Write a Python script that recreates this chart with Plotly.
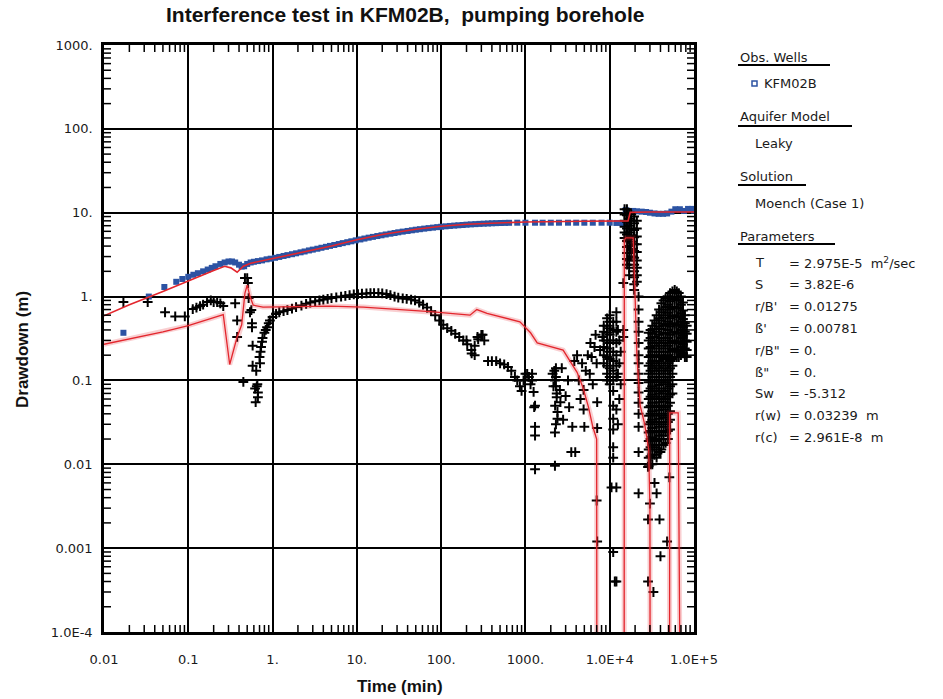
import plotly.graph_objects as go

# ---------------- data ----------------
# Observed drawdown, KFM02B (blue squares)
obs_time = [0.017, 0.034, 0.052, 0.072, 0.085, 0.1, 0.115, 0.13, 0.15, 0.17, 0.19, 0.21, 0.24, 0.27, 0.3,
            0.33, 0.36, 0.4, 0.43, 0.46, 0.5, 0.55, 0.6, 0.67, 0.75, 0.85, 0.95, 1.07, 1.2, 1.35, 1.5, 1.7,
            1.9, 2.15, 2.4, 2.7, 3.0, 3.4, 3.8, 4.3, 4.8, 5.4, 6.1, 6.8, 7.7, 8.6, 9.7, 11, 12.3, 13.8, 15.5,
            17.5, 19.6, 22, 25, 28, 31, 35, 40, 45, 50, 56, 63, 71, 80, 90, 100, 113, 127, 143, 160, 180,
            200, 225, 255, 285, 320, 360, 400, 450, 510, 570, 640, 800, 1000, 1300, 1600, 2000, 2500, 3200,
            4000, 5000, 6300, 8000, 10000, 12000, 14000, 15500, 16500, 15500, 17500, 19000, 21000, 24000,
            27000, 30000, 34000, 38000, 43000, 48000, 54000, 60000, 68000, 76000, 85000, 95000, 100000]
obs_drawdown = [0.37, 1.0, 1.3, 1.5, 1.62, 1.72, 1.82, 1.9, 2.0, 2.1, 2.2, 2.3, 2.45, 2.55, 2.62,
                2.62, 2.55, 2.4, 2.28, 2.3, 2.45, 2.55, 2.6, 2.65, 2.7, 2.78, 2.83, 2.9, 2.97, 3.05, 3.12, 3.2,
                3.28, 3.37, 3.45, 3.55, 3.63, 3.72, 3.82, 3.92, 4.02, 4.12, 4.23, 4.34, 4.45, 4.56, 4.68, 4.8,
                4.92, 5.04, 5.15, 5.27, 5.38, 5.5, 5.62, 5.73, 5.84, 5.95, 6.06, 6.17, 6.27, 6.36, 6.46, 6.55,
                6.64, 6.73, 6.8, 6.88, 6.95, 7.02, 7.08, 7.14, 7.2, 7.26, 7.31, 7.36, 7.4, 7.44, 7.48, 7.51,
                7.54, 7.56, 7.58, 7.6, 7.6, 7.6, 7.6, 7.6, 7.6, 7.6, 7.6, 7.6, 7.6, 7.6, 7.6, 7.55, 7.5, 7.3,
                7.3, 10.8, 10.3, 10.5, 10.4, 10.3, 10.2, 10.0, 9.8, 9.7, 9.7, 9.8, 10.3, 11.0, 11.0, 10.5,
                11.1, 11.1, 10.6]

# Derivative data (black crosses) - scattered points
deriv_time = [0.017, 0.033, 0.053, 0.07, 0.091, 0.113, 0.125, 0.138, 0.15, 0.167, 0.185, 0.2, 0.22, 0.24, 0.26,
              0.36, 0.38, 0.38, 0.45, 0.47, 0.5, 0.51, 0.52, 0.54, 0.56, 0.57, 0.57, 0.58, 0.58, 0.62, 0.64,
              0.67, 0.67, 0.65, 0.63, 0.66,
              0.70, 0.71, 0.72, 0.73, 0.75, 0.76, 0.8, 0.83, 0.86, 0.9,
              0.93, 1.0, 1.1, 1.2, 1.35, 1.5, 1.7, 1.9, 2.2, 2.5, 2.8, 3.2, 3.6, 4.0, 4.5, 5.0, 5.7, 6.5, 7.3,
              8.2, 9.2, 10.3, 11.5, 13, 14.5, 16, 18, 20, 22.5, 25, 28, 31, 35, 39, 44, 49, 55, 61, 68, 76,
              85, 95, 106, 118, 132, 147, 164, 183, 204, 228, 250, 275, 300, 325, 250, 270, 310, 200, 230,
              360, 400, 450, 500, 560, 620, 680, 750, 800, 860, 900, 950, 1000, 1050, 1100, 1150, 1200,
              1200, 1250, 1270, 1300, 1300, 1300, 1300,
              2240, 2350, 2400, 2240, 2240, 2560, 2100, 2150, 2300, 2800, 3300, 3600, 3500, 3900, 4900, 4900,
              4700, 5200, 5000, 6100, 5900, 7000, 7100, 7100, 7000, 7100, 7700, 8200,
              3800, 4100, 4300, 4500, 5500, 5800, 6300, 6600, 6800, 3000, 3200, 2700,
              2200, 2300, 2300, 2350, 2250, 2400, 2300, 2600,
              11500, 10500, 11000, 12500, 13000, 13500, 13000, 12500, 13500, 13000, 12000, 12500, 12000, 12000,
              14500, 14500, 14500,
              28500, 30000, 28500, 39000, 48000, 40000, 28500, 33000, 51000, 40000, 34000, 36000]
deriv_drawdown = [0.86, 0.86, 0.65, 0.58, 0.58, 0.71, 0.74, 0.77, 0.8, 0.86, 0.9, 0.86, 0.86, 0.83, 0.77,
                  0.83, 0.52, 0.33, 0.096, 1.66, 1.66, 1.45, 0.96, 0.65, 0.69, 0.48, 0.43, 0.26, 0.15, 0.08,
                  0.13, 0.063, 0.072, 0.085, 0.055, 0.09,
                  0.19, 0.16, 0.22, 0.25, 0.29, 0.32, 0.37, 0.4, 0.43, 0.48,
                  0.52, 0.57, 0.62, 0.65, 0.67, 0.69, 0.72, 0.75, 0.78, 0.82, 0.85, 0.88, 0.9, 0.92, 0.94, 0.96,
                  0.98, 1.0, 1.02, 1.04, 1.06, 1.07, 1.08, 1.09, 1.1, 1.1, 1.1, 1.09, 1.07, 1.04, 1.0, 0.97,
                  0.95, 0.94, 0.92, 0.9, 0.85, 0.8, 0.74, 0.67, 0.6, 0.52, 0.46, 0.42, 0.39, 0.36, 0.33, 0.3,
                  0.27, 0.23, 0.26, 0.31, 0.35, 0.3, 0.2, 0.33, 0.35, 0.3, 0.21,
                  0.17, 0.17, 0.17, 0.16, 0.155, 0.145, 0.13, 0.11, 0.1, 0.085, 0.075, 0.1, 0.12, 0.12, 0.11,
                  0.09, 0.12, 0.1, 0.073, 0.048, 0.05, 0.028, 0.022, 0.0087,
                  0.1, 0.063, 0.042, 0.024, 0.0096, 0.077, 0.12, 0.085, 0.14, 0.034, 0.048, 0.028, 0.014,
                  0.014, 0.077, 0.045, 0.16, 0.13, 0.028, 0.19, 0.28, 0.16, 0.055, 0.027, 0.0037, 0.0012,
                  0.23, 0.33,
                  0.17, 0.2, 0.1, 0.06, 0.2, 0.12, 0.09, 0.25, 0.35, 0.065, 0.1, 0.14,
                  0.13, 0.11, 0.085, 0.07, 0.05, 0.035, 0.03, 0.055,
                  0.0004, 0.0053, 0.0009, 0.4, 0.3, 0.22, 0.16, 0.12, 0.09, 0.06, 0.045, 0.03, 0.0053, 0.0004,
                  1.45, 0.4, 0.33,
                  0.0093, 0.0034, 0.0022, 0.0022, 0.0012, 0.0008, 0.0004, 0.0003, 0.007, 0.014, 0.006, 0.0045]

# Derivative data (black crosses) - dense columns at late time
deriv_col_time = [8500, 9300, 10000, 11000, 12000,
                  15000, 16000, 17000, 18000, 19500, 21000, 22000,
                  29000, 30500, 32000, 34000, 36000, 38500, 41000, 43500, 46000, 49000, 52000, 55500,
                  59000, 62500, 66000, 70000, 74000, 78000, 82000]
deriv_col_values = [
    [0.45, 0.38, 0.3, 0.25, 0.2, 0.16],
    [0.55, 0.45, 0.37, 0.3, 0.24, 0.19, 0.15, 0.12, 0.1],
    [0.6, 0.5, 0.42, 0.35, 0.28, 0.22, 0.18, 0.14, 0.11, 0.09],
    [0.5, 0.4, 0.3, 0.22, 0.17, 0.13, 0.1, 0.075, 0.05, 0.035, 0.026, 0.016, 0.012],
    [0.65, 0.5, 0.38, 0.28, 0.2, 0.15, 0.11],
    [11, 9.5, 8, 6.8, 5.8, 5],
    [11, 9.3, 7.8, 6.5, 5.5, 4.6, 3.9, 3.3, 2.8, 2.4],
    [10, 8.5, 7, 5.8, 4.8, 4, 3.3, 2.7, 2.2, 1.8],
    [9.5, 8, 6.5, 5.4, 4.5, 3.7, 3],
    [9, 7.5, 6.2, 5.1, 4.2, 3.5, 2.9, 2.4, 2, 1.7, 1.4, 1.2],
    [8, 6.5, 5.2, 4.2, 3.4, 2.7, 2.2, 1.8, 1.5],
    [1.0, 0.7, 0.5, 0.38, 0.28, 0.2, 0.16, 0.12, 0.093, 0.072, 0.054, 0.04, 0.028, 0.014, 0.0045],
    [0.37, 0.3, 0.24, 0.19, 0.15, 0.12, 0.095, 0.075, 0.06, 0.048, 0.038, 0.03, 0.024, 0.019, 0.015, 0.012, 0.0095],
    [0.4, 0.32, 0.25, 0.2, 0.16, 0.13, 0.1, 0.08, 0.064, 0.05, 0.04, 0.032, 0.025, 0.02, 0.016, 0.0125, 0.01],
    [0.45, 0.36, 0.28, 0.22, 0.17, 0.14, 0.11, 0.085, 0.068, 0.054, 0.043, 0.034, 0.027, 0.021, 0.017, 0.013, 0.01],
    [0.52, 0.41, 0.33, 0.26, 0.2, 0.16, 0.13, 0.1, 0.08, 0.064, 0.05, 0.04, 0.032, 0.025, 0.02, 0.016, 0.013],
    [0.6, 0.48, 0.38, 0.3, 0.24, 0.19, 0.15, 0.12, 0.095, 0.075, 0.06, 0.048, 0.038, 0.03, 0.024, 0.019, 0.015, 0.012],
    [0.7, 0.55, 0.44, 0.35, 0.28, 0.22, 0.17, 0.14, 0.11, 0.088, 0.07, 0.055, 0.044, 0.035, 0.028, 0.022, 0.017, 0.014],
    [0.83, 0.65, 0.52, 0.41, 0.32, 0.26, 0.2, 0.16, 0.13, 0.1, 0.08, 0.064, 0.05, 0.04, 0.032, 0.025, 0.02, 0.015],
    [0.9, 0.7, 0.56, 0.45, 0.36, 0.28, 0.22, 0.18, 0.14, 0.11, 0.09, 0.07, 0.056, 0.045, 0.036, 0.028, 0.022, 0.017],
    [0.95, 0.75, 0.6, 0.47, 0.37, 0.3, 0.24, 0.19, 0.15, 0.12, 0.095, 0.075, 0.06, 0.048, 0.038, 0.03, 0.024, 0.018],
    [1.0, 0.8, 0.64, 0.5, 0.4, 0.32, 0.26, 0.2, 0.16, 0.13, 0.1, 0.08, 0.064, 0.05, 0.04, 0.032, 0.025, 0.02],
    [1.1, 0.88, 0.7, 0.55, 0.44, 0.35, 0.28, 0.22, 0.17, 0.14, 0.11, 0.085, 0.068, 0.054, 0.043, 0.034, 0.026],
    [1.15, 0.92, 0.73, 0.58, 0.46, 0.37, 0.29, 0.23, 0.18, 0.15, 0.12, 0.09, 0.07],
    [1.2, 0.95, 0.75, 0.6, 0.48, 0.38, 0.3, 0.24, 0.19],
    [1.15, 0.92, 0.73, 0.58, 0.46, 0.37, 0.29, 0.23, 0.19],
    [1.1, 0.9, 0.72, 0.57, 0.45, 0.36, 0.28, 0.22, 0.19],
    [1.0, 0.8, 0.63, 0.5, 0.4, 0.32, 0.25, 0.2],
    [0.85, 0.68, 0.54, 0.43, 0.34, 0.27, 0.21],
    [0.6, 0.48, 0.38, 0.3, 0.24, 0.19],
    [0.45, 0.36, 0.29, 0.23, 0.19],
]

# Model curves (red lines)
model_time = [0.01, 0.02, 0.05, 0.1, 0.2, 0.27, 0.32, 0.38, 0.45, 0.55, 0.8, 1, 2, 5, 10, 20, 50, 100, 200,
              500, 1000, 5000, 15000, 16500, 17500, 30000, 100000]
model_drawdown = [0.59, 0.8, 1.15, 1.55, 2.05, 2.3, 2.2, 1.95, 2.3, 2.5, 2.7, 2.85, 3.3, 4.0, 4.75, 5.5, 6.35,
                  6.9, 7.3, 7.6, 7.75, 7.9, 8.0, 8.0, 10.1, 10.2, 10.2]

deriv_model_time = [0.01, 0.05, 0.1, 0.2, 0.26, 0.31, 0.38, 0.43, 0.47, 0.5, 0.54, 0.59, 0.77, 4.8, 11.9, 74,
                    220, 265, 350, 860, 1150, 1380, 2800, 4100, 4800, 5600, 6300, 7000, 7100,
                    14800, 14900, 15500, 19000, 20000, 21000, 23000, 26000, 29000, 30000, 30500,
                    51000, 51500, 65000, 73000]
deriv_model_drawdown = [0.27, 0.38, 0.45, 0.56, 0.61, 0.155, 0.33, 0.46, 1.1, 1.37, 1.0, 0.79, 0.75, 0.77,
                        0.75, 0.66, 0.6, 0.7, 0.63, 0.5, 0.37, 0.28, 0.23, 0.125, 0.083, 0.048, 0.028, 0.02,
                        1e-9, 1e-9, 4.7, 5.0, 5.0, 1.0, 0.2, 0.05, 0.03, 0.015, 0.003, 1e-9,
                        1e-9, 0.041, 0.041, 1e-9]

x_tickvals = [0.01, 0.1, 1, 10, 100, 1000, 10000, 100000]
x_ticktext = ["0.01", "0.1", "1.", "10.", "100.", "1000.", "1.0E+4", "1.0E+5"]
y_tickvals = [0.0001, 0.001, 0.01, 0.1, 1, 10, 100, 1000]
y_ticktext = ["1.0E-4", "0.001", "0.01", "0.1", "1.", "10.", "100.", "1000."]

param_labels = ["T", "S", "r/B'", "ß'", "r/B\"", "ß\"", "Sw", "r(w)", "r(c)"]
param_values = ["= 2.975E-5  m<sup>2</sup>/sec", "= 3.82E-6", "= 0.01275", "= 0.00781", "= 0.",
                "= 0.", "= -5.312", "= 0.03239  m", "= 2.961E-8  m"]

# ---------------- figure ----------------
L, R, T, B = 104, 694, 45, 632
W, H = 943, 699


def px(x):
    return (x - L) / (R - L)


def py(y):
    return (B - y) / (B - T)


dx, dy = [], []
for t, vals in zip(deriv_col_time, deriv_col_values):
    for v in vals:
        dx.append(t)
        dy.append(v)
dx = deriv_time + dx
dy = deriv_drawdown + dy

RED = "#e3262d"
fig = go.Figure()
fig.add_trace(go.Scatter(x=obs_time, y=obs_drawdown, mode="markers",
                         marker=dict(symbol="square", size=6, color="#2c53a3"),
                         showlegend=False))
fig.add_trace(go.Scatter(x=dx, y=dy, mode="markers",
                         marker=dict(symbol="cross-thin", size=7, line=dict(width=2, color="black")),
                         showlegend=False))
# soft halo of the model derivative curve (anti-aliased look of the original)
fig.add_trace(go.Scatter(x=deriv_model_time, y=deriv_model_drawdown, mode="lines",
                         line=dict(color="rgba(227,38,45,0.22)", width=5), showlegend=False))
fig.add_trace(go.Scatter(x=model_time, y=model_drawdown, mode="lines",
                         line=dict(color=RED, width=1.6), showlegend=False))
fig.add_trace(go.Scatter(x=deriv_model_time, y=deriv_model_drawdown, mode="lines",
                         line=dict(color=RED, width=1.3), showlegend=False))

axis_common = dict(type="log", showgrid=True, gridcolor="black", gridwidth=2,
                   showline=True, linecolor="black", linewidth=2.5, mirror=True,
                   ticks="", tickfont=dict(family="DejaVu Sans", size=13, color="#1a1a1a"),
                   zeroline=False)
fig.update_xaxes(range=[-2, 5], tickvals=x_tickvals, ticktext=x_ticktext, ticklabelstandoff=14,
                 **axis_common)
fig.update_yaxes(range=[-4, 3], tickvals=y_tickvals, ticktext=y_ticktext, ticklabelstandoff=6,
                 **axis_common)

ann = []
ann.append(dict(x=px(405), y=py(14), text="<b>Interference test in KFM02B,  pumping borehole</b>",
                font=dict(family="Liberation Sans", size=21, color="#111")))
ann.append(dict(x=px(400), y=py(686), text="<b>Time (min)</b>",
                font=dict(family="Liberation Sans", size=17, color="#111")))
ann.append(dict(x=px(22), y=py(350), text="<b>Drawdown (m)</b>", textangle=-90,
                font=dict(family="Liberation Sans", size=17, color="#111")))

leg_font = dict(family="DejaVu Sans", size=13, color="#1a1a1a")
for txt, xx, yy in [("Obs. Wells", 738, 57), ("KFM02B", 762, 83), ("Aquifer Model", 738, 117),
                    ("Leaky", 753, 143), ("Solution", 738, 177), ("Moench (Case 1)", 753, 203),
                    ("Parameters", 738, 236)]:
    ann.append(dict(x=px(xx), y=py(yy), text=txt, xanchor="left", font=leg_font))
for i, (lab, val) in enumerate(zip(param_labels, param_values)):
    yy = 262.5 + 21.9 * i
    ann.append(dict(x=px(753), y=py(yy), text=lab, xanchor="left", font=leg_font))
    ann.append(dict(x=px(787), y=py(yy), text=val, xanchor="left", font=leg_font))
for a in ann:
    a.update(xref="paper", yref="paper", showarrow=False, yanchor="middle")
    a.setdefault("xanchor", "center")

shapes = []
# minor tick marks (inside, on all four sides) placed through the axis scales
tick_w = 1.5
tl_x = 7 / (B - T)
tl_y = 7 / (R - L)
for e in range(-2, 5):
    for m in range(2, 10):
        v = m * 10 ** e
        shapes.append(dict(type="line", xref="x", yref="paper", x0=v, x1=v, y0=0, y1=tl_x,
                           line=dict(color="black", width=tick_w)))
        shapes.append(dict(type="line", xref="x", yref="paper", x0=v, x1=v, y0=1, y1=1 - tl_x,
                           line=dict(color="black", width=tick_w)))
for e in range(-4, 3):
    for m in range(2, 10):
        v = m * 10 ** e
        shapes.append(dict(type="line", xref="paper", yref="y", y0=v, y1=v, x0=0, x1=tl_y,
                           line=dict(color="black", width=tick_w)))
        shapes.append(dict(type="line", xref="paper", yref="y", y0=v, y1=v, x0=1, x1=1 - tl_y,
                           line=dict(color="black", width=tick_w)))
# legend underlines and marker box
for x0, x1, yy in [(738, 830, 65), (738, 852, 126), (738, 806, 185), (738, 835, 244)]:
    shapes.append(dict(type="line", xref="paper", yref="paper", x0=px(x0), x1=px(x1), y0=py(yy), y1=py(yy),
                       line=dict(color="black", width=2)))
shapes.append(dict(type="rect", xref="paper", yref="paper", x0=px(752), x1=px(757), y0=py(86), y1=py(81),
                   line=dict(color="#2c53a3", width=1.5), fillcolor="white"))

fig.update_layout(width=W, height=H, margin=dict(l=L, r=W - R, t=T, b=H - B),
                  paper_bgcolor="white", plot_bgcolor="white",
                  annotations=ann, shapes=shapes, showlegend=False)

fig.write_html("out.html")
